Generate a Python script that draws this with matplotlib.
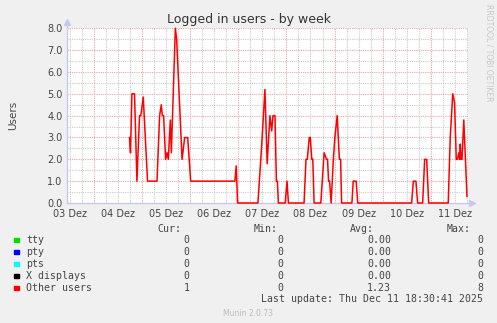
import numpy as np
import matplotlib.pyplot as plt
from matplotlib.patches import Rectangle

W, H = 497, 323

# "Other users" series, hours since 03 Dez 00:00 and value
hours = [41.8, 42.3, 43.0, 44.3, 45.5, 46.8, 47.4, 47.9, 48.65, 50.8,
         55.5, 56.8, 57.65, 58.15, 58.8, 59.8, 60.5, 61.15, 62.15, 62.65,
         64.65, 65.3, 68.0, 69.3, 70.8, 72.3, 94.3, 95.0, 95.65, 105.8,
         107.65, 109.3, 110.4, 111.8, 112.65, 113.3, 114.3, 115.0, 115.5, 116.0,
         119.4, 120.3, 121.0, 128.8, 129.75, 130.4, 131.4, 131.9, 132.65, 133.15,
         133.8, 137.15, 138.8, 140.0, 140.5, 141.0, 141.5, 142.3, 143.4, 144.15,
         145.3, 146.4, 147.0, 147.5, 152.65, 153.3, 154.75, 155.55, 182.4, 183.25,
         184.55, 185.4, 187.9, 188.9, 189.9, 190.9, 200.65, 201.65, 202.9, 203.8,
         204.65, 205.3, 205.9, 206.4, 206.65, 207.0, 207.5, 208.4, 210.0]
other = [3.0, 2.3, 5.0, 5.0, 1.0, 4.0, 4.0, 4.3, 4.85, 1.0,
         1.0, 4.0, 4.5, 4.0, 4.0, 2.0, 2.3, 2.0, 3.8, 2.3,
         8.0, 7.5, 2.0, 3.0, 3.0, 1.0, 1.0, 1.7, 0.0, 0.0,
         2.6, 5.2, 1.8, 4.0, 3.3, 4.0, 4.0, 1.0, 1.0, 0.0,
         0.0, 1.0, 0.0, 0.0, 2.0, 2.0, 3.0, 3.0, 2.0, 2.0,
         0.0, 0.0, 2.3, 2.0, 2.0, 1.0, 1.0, 0.0, 2.0, 3.0,
         4.0, 2.0, 2.0, 0.0, 0.0, 1.0, 1.0, 0.0, 0.0, 1.0,
         1.0, 0.0, 0.0, 2.0, 2.0, 0.0, 0.0, 3.0, 5.0, 4.6,
         2.0, 2.0, 2.3, 2.0, 2.7, 2.0, 2.0, 3.8, 0.3]

day_labels = ['03 Dez', '04 Dez', '05 Dez', '06 Dez', '07 Dez',
              '08 Dez', '09 Dez', '10 Dez', '11 Dez']

names = ['tty', 'pty', 'pts', 'X displays', 'Other users']
colors = ['#00DD00', '#0000FF', '#00FFFF', '#000000', '#FF0000']
cur = ['0', '0', '0', '0', '1']
mins = ['0', '0', '0', '0', '0']
avg = ['0.00', '0.00', '0.00', '0.00', '1.23']
maxs = ['0', '0', '0', '0', '8']

fig = plt.figure(figsize=(W / 100, H / 100), dpi=100, facecolor='#F0F0F0')
x0, x1, ytop, ybot = 66.7, 468, 28.3, 203
ax = fig.add_axes([x0 / W, 1 - ybot / H, (x1 - x0) / W, (ybot - ytop) / H])
ax.set_facecolor('white')
ax.set_xlim(10.5, 210.5)
ax.set_ylim(0, 8)

# grid: red at midnight / whole numbers, grey in between
for h in np.arange(12, 211, 6):
    c = '#E8A8A8' if h % 24 == 0 else '#CCCCCC'
    ax.axvline(h, color=c, lw=0.8, ls=(0, (1, 1)), zorder=1)
for v in np.arange(0.5, 8.01, 0.5):
    c = '#E8A8A8' if v % 1 == 0 else '#CCCCCC'
    ax.axhline(v, color=c, lw=0.8, ls=(0, (1, 1)), zorder=1)

ax.plot(hours, other, color='#FF0000', lw=1.1, zorder=3, clip_on=False)

for s in ['top', 'right']:
    ax.spines[s].set_visible(False)
for s in ['left', 'bottom']:
    ax.spines[s].set_color('#C8C8EE')
    ax.spines[s].set_linewidth(1.0)
ax.spines['left'].set_bounds(0, 8.3)
ax.spines['bottom'].set_bounds(10.5, 212)
ax.plot([0], [1.035], marker='^', ms=4, color='#C8C8EE',
        transform=ax.transAxes, clip_on=False)
ax.plot([1.01], [0], marker='>', ms=4, color='#C8C8EE',
        transform=ax.transAxes, clip_on=False)

ax.set_xticks(12 + 24 * np.arange(len(day_labels)), day_labels)
ax.set_yticks(np.arange(0, 9), [f'{v:.1f}' for v in range(9)])
ax.tick_params(length=0, labelsize=7, labelcolor='#444444', pad=3)
ax.tick_params(axis='x', pad=4)
ax.set_ylabel('Users', fontsize=7.5, color='#444444', labelpad=21)

fig.text(249 / W, 1 - 19 / H, 'Logged in users - by week', ha='center',
         va='center', fontsize=9, color='#333333')
fig.text(489 / W, 1 - 53 / H, 'RRDTOOL / TOBI OETIKER', rotation=-90,
         ha='center', va='center', fontsize=5.5, color='#C8C8C8')

# legend table
mono = dict(family='DejaVu Sans Mono', fontsize=7.1, color='#444444', va='center')
fig.text(181 / W, 1 - 228.5 / H, 'Cur:', ha='right', **mono)
fig.text(278 / W, 1 - 228.5 / H, 'Min:', ha='right', **mono)
fig.text(374 / W, 1 - 228.5 / H, 'Avg:', ha='right', **mono)
fig.text(471 / W, 1 - 228.5 / H, 'Max:', ha='right', **mono)
for i, n in enumerate(names):
    y = 240 + 12 * i
    fig.patches.append(Rectangle((14 / W, 1 - (y + 2.3) / H), 4.6 / W, 4.6 / H,
                                 transform=fig.transFigure, color=colors[i]))
    fig.text(26.5 / W, 1 - y / H, n, ha='left', **mono)
    fig.text(189.5 / W, 1 - y / H, cur[i], ha='right', **mono)
    fig.text(283 / W, 1 - y / H, mins[i], ha='right', **mono)
    fig.text(391 / W, 1 - y / H, avg[i], ha='right', **mono)
    fig.text(483 / W, 1 - y / H, maxs[i], ha='right', **mono)
fig.text(483 / W, 1 - 299.5 / H, 'Last update: Thu Dec 11 18:30:41 2025',
         ha='right', **mono)
fig.text(248 / W, 1 - 314 / H, 'Munin 2.0.73', ha='center', va='center',
         fontsize=5.5, color='#BBBBBB')

fig.savefig('out.png', dpi=100, facecolor=fig.get_facecolor())
